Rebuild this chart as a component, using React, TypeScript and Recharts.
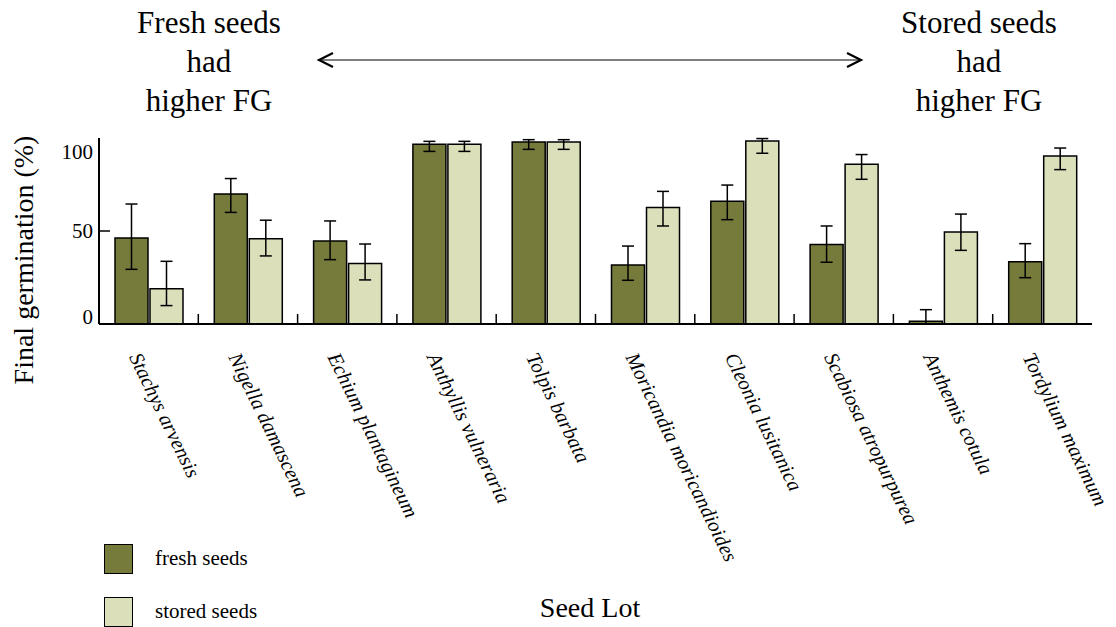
import React from "react";
import { BarChart, Bar, XAxis, YAxis, ErrorBar, Legend } from "recharts";

const SERIF = '"Liberation Serif", "Times New Roman", serif';

const lots = [
  "Stachys arvensis",
  "Nigella damascena",
  "Echium plantagineum",
  "Anthyllis vulneraria",
  "Tolpis barbata",
  "Moricandia moricandioides",
  "Cleonia lusitanica",
  "Scabiosa atropurpurea",
  "Anthemis cotula",
  "Tordylium maximum",
];

// final germination (%), mean per seed lot
const freshFG = [46.2, 69.9, 44.6, 96.6, 97.8, 31.7, 66.0, 42.7, 1.5, 33.5];
const storedFG = [19.0, 45.9, 32.5, 96.6, 97.8, 62.6, 98.4, 85.9, 49.5, 90.3];

// [below, above] error extents
const freshErr = [
  [16.8, 18.3], [9.9, 8.3], [10, 10.8], [3.8, 1.6], [3.9, 1.3],
  [8.2, 10.2], [9.9, 8.7], [9.5, 10], [1.5, 6.2], [8.6, 9.7],
];
const storedErr = [
  [9.1, 14.7], [9.3, 9.9], [8.8, 10.5], [3.8, 1.6], [3.9, 1.3],
  [9.9, 8.7], [6.6, 1.3], [8.1, 5.2], [9.9, 9.6], [7.3, 4.3],
];

const yTicks = [0, 50, 100];

const data = lots.map((lot, i) => ({
  lot,
  fresh: freshFG[i],
  stored: storedFG[i],
  freshErr: freshErr[i],
  storedErr: storedErr[i],
}));

const FRESH = "#767A3B";
const STORED = "#DBDFBA";

function LotTick(props: any) {
  const { x, y, payload } = props;
  const index = props.index ?? payload.index;
  const half = payload.offset ?? props.width / (2 * lots.length);
  const edge = x + half;
  return (
    <g>
      {index < lots.length - 1 && (
        <line x1={edge} x2={edge} y1={y} y2={y - 10} stroke="#000" strokeWidth={1.5} />
      )}
      <text
        transform={`translate(${x - 20},${y + 33}) rotate(64)`}
        fontFamily={SERIF}
        fontStyle="italic"
        fontSize={20.5}
        fill="#000"
      >
        {payload.value}
      </text>
    </g>
  );
}

function PercentTick(props: any) {
  const { x, y, payload } = props;
  // end labels sit inside the frame
  const nudge = payload.value === 100 ? 14 : payload.value === 0 ? -7 : 0;
  return (
    <g>
      {payload.value === 50 && (
        <line x1={x} x2={x + 11} y1={y} y2={y} stroke="#000" strokeWidth={1.5} />
      )}
      <text x={x - 6} y={y + nudge} dy="0.35em" textAnchor="end" fontFamily={SERIF} fontSize={21} fill="#000">
        {payload.value}
      </text>
    </g>
  );
}

function SeedLegend({ payload }: any) {
  return (
    <div style={{ fontFamily: SERIF }}>
      {(payload || []).map((p: any) => (
        <div key={p.value} style={{ display: "flex", alignItems: "center", height: 53 }}>
          <span
            style={{
              width: 27,
              height: 28,
              background: p.color,
              border: "1.5px solid #000",
              display: "inline-block",
            }}
          />
          <span style={{ marginLeft: 22, fontSize: 21, color: "#000" }}>{p.value}</span>
        </div>
      ))}
    </div>
  );
}

function Notes() {
  const t = { fontFamily: SERIF, fontSize: 31, fill: "#000", textAnchor: "middle" as const };
  return (
    <svg width={1116} height={627} style={{ position: "absolute", left: 0, top: 0, pointerEvents: "none" }}>
      <text x={209} y={33} {...t}>Fresh seeds</text>
      <text x={209} y={72} {...t}>had</text>
      <text x={209} y={111} {...t}>higher FG</text>
      <text x={979} y={33} {...t}>Stored seeds</text>
      <text x={979} y={72} {...t}>had</text>
      <text x={979} y={111} {...t}>higher FG</text>

      <line x1={319} x2={861} y1={60} y2={60} stroke="#000" strokeWidth={1.2} />
      <polyline points="333,53 319,60 333,67" fill="none" stroke="#000" strokeWidth={2.2} />
      <polyline points="847,53 861,60 847,67" fill="none" stroke="#000" strokeWidth={2.2} />

      <text
        transform="translate(33,260) rotate(-90)"
        fontFamily={SERIF}
        fontSize={28}
        textAnchor="middle"
        fill="#000"
      >
        Final germination (%)
      </text>
      <text x={590} y={617} fontFamily={SERIF} fontSize={28} textAnchor="middle" fill="#000">
        Seed Lot
      </text>
    </svg>
  );
}

export default function App() {
  return (
    <div style={{ position: "absolute", left: 0, top: 0, width: 1116, height: 627, background: "#fff" }}>
      <BarChart
        width={1116}
        height={627}
        data={data}
        margin={{ top: 138, right: 24, left: 0, bottom: 263 }}
        barSize={33}
        barGap={2}
      >
        <XAxis
          dataKey="lot"
          interval={0}
          height={40}
          tickLine={false}
          tickSize={0}
          tickMargin={0}
          axisLine={{ stroke: "#000", strokeWidth: 2 }}
          tick={<LotTick />}
        />
        <XAxis
          xAxisId="top"
          dataKey="lot"
          orientation="top"
          height={0}
          tick={false}
          tickLine={false}
          axisLine={{ stroke: "#000", strokeWidth: 1.5 }}
        />
        <YAxis
          type="number"
          domain={[0, 100]}
          ticks={yTicks}
          allowDataOverflow
          width={99}
          tickLine={false}
          tickSize={0}
          tickMargin={0}
          axisLine={{ stroke: "#000", strokeWidth: 2 }}
          tick={<PercentTick />}
        />
        <YAxis
          yAxisId="right"
          orientation="right"
          type="number"
          domain={[0, 100]}
          width={0}
          tick={false}
          tickLine={false}
          axisLine={{ stroke: "#000", strokeWidth: 1.5 }}
        />
        <Legend
          layout="vertical"
          align="center"
          verticalAlign="middle"
          wrapperStyle={{ left: 104, top: 532, width: 220 }}
          content={<SeedLegend />}
        />
        <Bar dataKey="fresh" name="fresh seeds" fill={FRESH} stroke="#000" strokeWidth={1.5} isAnimationActive={false}>
          <ErrorBar dataKey="freshErr" width={6} stroke="#000" strokeWidth={1.5} isAnimationActive={false} />
        </Bar>
        <Bar dataKey="stored" name="stored seeds" fill={STORED} stroke="#000" strokeWidth={1.5} isAnimationActive={false}>
          <ErrorBar dataKey="storedErr" width={6} stroke="#000" strokeWidth={1.5} isAnimationActive={false} />
        </Bar>
      </BarChart>
      <Notes />
    </div>
  );
}
